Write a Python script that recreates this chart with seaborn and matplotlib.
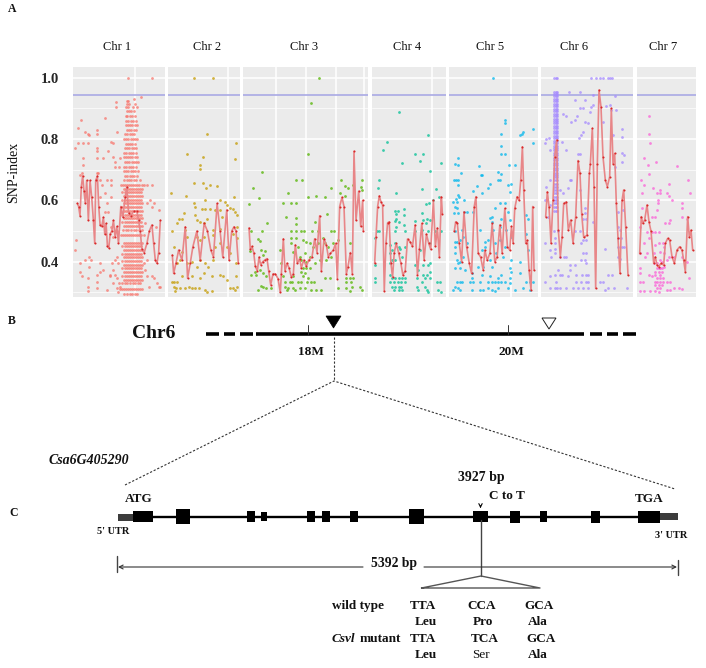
import matplotlib
matplotlib.use('Agg')
import matplotlib.pyplot as plt
from matplotlib.patches import Rectangle, Polygon
import pandas as pd
import seaborn as sns

# positions are read off the figure in arbitrary units, no x labels are shown anyway
chr_names = ['Chr 1', 'Chr 2', 'Chr 3', 'Chr 4', 'Chr 5', 'Chr 6', 'Chr 7']
chr_colors = ['#f8766d', '#c49a00', '#53b400', '#00c094', '#00b6eb', '#a58aff', '#fb61d7']
panel_px = [(73.3, 165), (168, 240), (243, 368), (372, 446), (449, 538), (541, 633), (637, 696)]
panel_lim = [(220, 494), (503, 720), (25, 400), (410, 633), (27, 295), (304, 580), (590, 767)]
panel_grid = [[405], [685], [125, 215, 303, 388], [590], [215], [], []]
title_x = [117.5, 207, 304, 407, 490, 574, 663]
threshold = 0.944
yticks = [0.4, 0.6, 0.8, 1.0]
yminor = [0.3, 0.5, 0.7, 0.9]

chr1_line = [(232,.59),(236,.58),(240,.55),(244,.645),(248,.68),(252,.63),(256,.59),(260,.665),(265,.535),(270,.665),
             (275,.61),(280,.535),(284,.46),(287,.665),(292,.68),(296,.58),(300,.52),(305,.515),(310,.545),(314,.49),
             (318,.525),(322,.45),(326,.445),(330,.49),(335,.50),(340,.535),(345,.48),(350,.515),(355,.46),(362,.58),
             (368,.545),(375,.61),(380,.645),(385,.56),(392,.55),(400,.565),(410,.565),(415,.535),(420,.50),(425,.44),
             (432,.43),(440,.46),(447,.50),(455,.52),(460,.46),(465,.405),(470,.395),(475,.43),(480,.535)]
chr2_line = [(516,.422),(520,.362),(527,.395),(535,.438),(545,.405),(555,.514),(562,.346),(570,.395),(578,.449),
             (590,.50),(600,.405),(612,.525),(622,.50),(632,.438),(640,.416),(651,.59),(660,.50),(668,.416),(680,.569),
             (687,.405),(695,.50),(702,.514),(708,.50),(715,.395)]
chr3_line = [(43,.51),(47,.44),(52,.45),(57,.43),(62,.385),(68,.37),(73,.415),(78,.39),(84,.40),(90,.405),(97,.41),
             (102,.37),(108,.325),(115,.36),(122,.36),(130,.345),(137,.30),(140,.36),(146,.475),(151,.37),(157,.395),
             (163,.38),(170,.35),(176,.36),(182,.455),(188,.395),(195,.41),(200,.38),(207,.405),(215,.385),(222,.405),
             (232,.415),(240,.475),(247,.43),(255,.55),(260,.37),(268,.475),(275,.455),(281,.416),(287,.427),(296,.438),
             (303,.46),(308,.345),(315,.58),(322,.61),(328,.58),(335,.36),(340,.384),(347,.43),(353,.36),(358,.76),
             (364,.535),(372,.63),(378,.515),(384,.60),(386,.50)]
chr4_line = [(418,.395),(422,.48),(427,.58),(432,.615),(437,.595),(442,.585),(447,.305),(452,.46),(457,.527),(462,.53),
             (467,.395),(472,.35),(477,.43),(483,.46),(490,.43),(497,.395),(503,.357),(510,.37),(517,.474),(525,.465),
             (532,.45),(540,.52),(547,.357),(553,.44),(560,.525),(567,.405),(574,.49),(581,.46),(587,.44),(595,.60),
             (601,.45),(607,.51),(613,.415),(619,.612),(622,.557)]
chr5_line = [(43,.50),(47,.53),(52,.525),(58,.46),(65,.40),(72,.563),(80,.449),(88,.395),(95,.362),(103,.58),(108,.612),
             (115,.427),(122,.416),(130,.373),(135,.438),(142,.405),(150,.427),(157,.525),(165,.40),(172,.416),(180,.52),
             (187,.427),(195,.574),(203,.449),(210,.438),(215,.515),(220,.46),(225,.574),(232,.612),(238,.60),(243,.666),
             (248,.775),(252,.634),(258,.46),(263,.47),(268,.373),(274,.308),(279,.58),(283,.373)]
chr6_line = [(318,.547),(323,.628),(328,.58),(334,.46),(340,.60),(345,.742),(351,.797),(356,.503),(362,.416),(367,.48),
             (372,.59),(380,.595),(386,.503),(393,.536),(400,.46),(408,.547),(415,.73),(421,.688),(426,.557),(432,.48),
             (442,.486),(449,.688),(452,.72),(458,.835),(463,.645),(468,.313),(473,.72),(478,.96),(484,.905),(490,.742),
             (497,.666),(503,.645),(510,.677),(515,.90),(520,.72),(525,.753),(530,.59),(535,.476),(541,.362),(547,.60),
             (552,.634),(558,.514),(565,.357)]
chr7_line = [(598,.427),(603,.547),(607,.525),(613,.536),(620,.585),(626,.53),(632,.50),(640,.395),(645,.416),(650,.389),
             (655,.384),(662,.395),(670,.389),(675,.46),(682,.476),(688,.47),(695,.416),(702,.395),(710,.438),(718,.449),
             (725,.438),(730,.405),(735,.367),(742,.547),(747,.48),(752,.503),(757,.438)]

chr1_pts = [(382,1.0),(456,1.0),(243,.862),(233,.835),(224,.77),(233,.786),(250,.786),(256,.824),(265,.815),(268,.812),
            (290,.83),(290,.818),(290,.77),(291,.762),(265,.786),(250,.737),(248,.715),(308,.737),(290,.737),(315,.87),
            (325,.76),(333,.79),(340,.786),(352,.824),(348,.92),(348,.905),(340,.74),(345,.726),(345,.71),(357,.71),
            (360,.737),(247,.688),(240,.683),(290,.69),(295,.69),(300,.666),(320,.666),(332,.666),(332,.65),(305,.65),
            (315,.625),(320,.59),(323,.563),(332,.612),(300,.612),(315,.563),(332,.514),(340,.48),(350,.50),(228,.47),
            (225,.438),(240,.395),(255,.405),(268,.416),(273,.405),(240,.368),(265,.346),(268,.384),(290,.357),(300,.368),
            (310,.373),(245,.352),(265,.318),(265,.305),(290,.333),(290,.313),(300,.395),(330,.357),(335,.395),(340,.373),
            (345,.405),(350,.416),(355,.395),(345,.357),(350,.346),(357,.33),(330,.352),(320,.308),(340,.33),(350,.313),
            (355,.302),(360,.318),(435,.525),(440,.59),(450,.601),(455,.579),(440,.65),(455,.65),(462,.59),(468,.514),
            (475,.568),(440,.352),(455,.352),(462,.346),(470,.33),(475,.318),(480,.318),(445,.318),(430,.395),(435,.373),(440,.405)]
# the dense block around 20M goes row by row
chr1_rows = [(.938,[421]),(.932,[400]),(.925,[380,384]),(.915,[379,386,403]),(.905,[378,383,398,409]),
             (.89,[380,386,392,402]),(.875,[376,381,388,395,404]),(.86,[378,384,391,398,406]),
             (.845,[376,382,390,396,403,410]),(.83,[379,385,392,400,408]),(.815,[374,380,388,395,402]),
             (.80,[372,378,384,391,398,405,411]),(.785,[376,383,390,396,404]),(.77,[374,380,387,394,401,408]),
             (.755,[372,378,385,392,399,406]),(.74,[370,376,382,389,396,403,410]),(.725,[373,380,387,394,401,408,414]),
             (.71,[372,378,385,392,399,406]),(.695,[370,377,384,391,398,405,412]),(.68,[374,381,388,395,402,409]),
             (.665,[372,379,386,393,400,407,418]),(.65,[362,368,374,380,386,392,398,404,410,416,424,432]),
             (.505,[368,376,384,392,400,408,416,424]),(.488,[362,368,374,380,386,392,398,404,410,416,422,430]),
             (.33,[365,373,381,389,397,405,413,420]),(.312,[360,366,372,378,384,390,396,402,408,414,420,426]),
             (.296,[372,380,388,396,404,410])]
chr1_fill_a = [370,376,382,388,394,400,406,412,418,424]
chr1_fill_b = [367,373,379,385,391,397,403,409,415,421]
chr1_fill_rows_a = [.638,.614,.590,.566,.542,.518,.462,.438,.414,.390,.366,.342]
chr1_fill_rows_b = [.626,.602,.578,.554,.530,.450,.426,.402,.378,.354]

chr2_pts = [(582,1.0),(638,1.0),(620,.818),(708,.786),(706,.734),(560,.75),(607,.742),(600,.715),(600,.704),(608,.658),
            (580,.658),(630,.65),(618,.64),(650,.648),(513,.625),(557,.615),(703,.612),(580,.59),(585,.579),(660,.601),
            (675,.595),(680,.585),(690,.574),(615,.601),(605,.572),(615,.572),(630,.572),(645,.568),(660,.568),(700,.572),
            (705,.563),(710,.552),(550,.56),(535,.54),(545,.54),(530,.525),(585,.552),(590,.536),(600,.53),(620,.541),
            (610,.525),(640,.503),(660,.508),(665,.547),(515,.50),(520,.449),(555,.503),(560,.481),(590,.481),(600,.47),
            (612,.481),(640,.487),(645,.449),(660,.46),(680,.449),(690,.427),(710,.514),(710,.476),(700,.492),(540,.405),
            (530,.395),(545,.432),(560,.395),(575,.40),(590,.384),(600,.405),(615,.395),(625,.384),(640,.405),(635,.352),
            (660,.357),(670,.352),(680,.341),(515,.335),(520,.335),(530,.335),(520,.318),(527,.316),(523,.305),(540,.313),
            (555,.313),(565,.318),(575,.316),(585,.313),(595,.313),(615,.308),(620,.302),(635,.305),(690,.313),(700,.313),
            (705,.308),(710,.318),(708,.352),(708,.395),(545,.352),(575,.352),(600,.346),(610,.362)]
chr3_pts = [(253,1.0),(229,.918),(221,.75),(82,.693),(55,.642),(72,.607),(42,.588),(183,.666),(201,.666),(160,.625),
            (146,.593),(168,.593),(183,.59),(220,.612),(243,.615),(270,.612),(290,.642),(320,.666),(332,.646),(340,.639),
            (355,.65),(378,.644),(382,.666),(382,.635),(316,.623),(330,.614),(96,.527),(153,.547),(185,.544),(185,.523),
            (240,.53),(278,.555),(82,.50),(50,.50),(70,.473),(75,.469),(80,.438),(90,.436),(85,.422),(47,.436),(170,.50),
            (185,.50),(200,.50),(208,.50),(233,.50),(290,.50),(297,.50),(250,.50),(168,.476),(185,.476),(205,.471),(215,.465),
            (225,.46),(170,.46),(190,.449),(235,.449),(250,.46),(265,.476),(270,.46),(280,.449),(295,.46),(310,.471),(345,.46),
            (175,.432),(195,.416),(210,.427),(225,.416),(240,.395),(255,.405),(275,.405),(290,.416),(200,.405),(215,.40),
            (50,.357),(60,.368),(65,.357),(75,.373),(85,.362),(95,.352),(70,.308),(78,.321),(85,.318),(95,.313),(110,.313),
            (140,.395),(135,.438),(145,.352),(150,.335),(175,.352),(200,.368),(205,.352),(212,.362),(220,.346),(205,.379),
            (215,.379),(225,.379),(150,.318),(158,.308),(165,.333),(172,.333),(180,.308),(190,.333),(200,.333),(210,.313),
            (218,.333),(228,.333),(238,.333),(245,.308),(260,.308),(270,.346),(285,.346),(310,.313),(335,.346),(345,.346),
            (355,.346),(335,.333),(350,.333),(335,.313),(345,.305),(352,.318),(375,.318),(382,.308),(160,.313),(175,.313),
            (195,.313),(230,.308)]
chr4_pts = [(492,.889),(578,.812),(455,.789),(442,.764),(541,.75),(565,.75),(500,.723),(556,.727),(619,.723),(586,.696),
            (432,.666),(428,.639),(483,.625),(562,.636),(603,.636),(612,.612),(480,.566),(487,.566),(507,.571),(483,.555),
            (507,.552),(483,.541),(478,.533),(490,.53),(583,.591),(572,.587),(595,.60),(560,.558),(565,.536),(575,.541),
            (585,.536),(540,.533),(572,.525),(482,.514),(505,.52),(425,.50),(430,.50),(480,.50),(508,.50),(540,.50),(560,.503),
            (580,.50),(600,.50),(617,.50),(465,.454),(470,.438),(480,.46),(490,.449),(465,.427),(470,.405),(480,.405),(495,.443),
            (500,.416),(510,.449),(555,.438),(585,.46),(420,.476),(420,.39),(465,.395),(420,.346),(420,.333),(465,.357),(470,.346),
            (480,.346),(490,.346),(500,.346),(510,.346),(540,.39),(550,.373),(565,.39),(580,.39),(585,.395),(565,.357),(575,.357),
            (585,.368),(545,.346),(560,.333),(570,.346),(585,.346),(465,.333),(475,.333),(487,.333),(497,.333),(508,.333),
            (470,.318),(480,.318),(490,.318),(497,.318),(475,.308),(490,.308),(500,.308),(545,.318),(548,.308),(570,.318),
            (575,.308),(580,.302),(605,.333),(615,.333),(610,.308),(617,.302)]
chr5_pts = [(158,1.0),(196,.862),(196,.854),(250,.824),(279,.833),(241,.813),(246,.818),(183,.818),(279,.786),(183,.777),
            (185,.75),(195,.75),(53,.737),(46,.72),(53,.717),(117,.713),(225,.715),(209,.715),(63,.69),(175,.693),(122,.683),
            (125,.684),(183,.686),(41,.666),(47,.666),(55,.666),(53,.65),(175,.666),(182,.666),(110,.646),(150,.652),(145,.642),
            (100,.631),(125,.625),(205,.65),(210,.628),(215,.655),(55,.617),(58,.612),(47,.603),(40,.595),(50,.595),(72,.601),
            (45,.579),(50,.574),(42,.558),(55,.558),(73,.563),(80,.563),(100,.563),(165,.574),(180,.59),(197,.59),(205,.563),
            (155,.547),(150,.544),(185,.541),(210,.536),(260,.552),(265,.541),(45,.50),(65,.503),(120,.503),(155,.53),(160,.503),
            (180,.514),(200,.503),(260,.492),(50,.465),(60,.47),(45,.465),(45,.449),(70,.481),(80,.46),(135,.465),(145,.47),
            (165,.46),(180,.47),(195,.449),(215,.481),(265,.438),(45,.427),(50,.405),(55,.395),(60,.40),(70,.416),(125,.438),
            (135,.449),(150,.405),(170,.427),(190,.416),(215,.405),(240,.40),(210,.379),(215,.368),(45,.379),(60,.379),(75,.373),
            (95,.362),(115,.384),(130,.384),(155,.384),(95,.346),(125,.357),(150,.352),(175,.346),(185,.357),(210,.346),(240,.362),
            (50,.333),(60,.333),(65,.333),(90,.333),(100,.333),(120,.333),(145,.333),(155,.333),(165,.333),(175,.333),(185,.333),
            (195,.333),(210,.33),(260,.333),(270,.333),(280,.333),(45,.318),(55,.313),(40,.308),(60,.308),(95,.308),(120,.308),
            (130,.308),(145,.313),(155,.308),(165,.305),(175,.313),(205,.313),(225,.308),(250,.313),(270,.308)]
chr6_pts = [(455,1.0),(470,1.0),(480,1.0),(490,1.0),(505,1.0),(510,1.0),(517,1.0),(343,1.0),(348,1.0),(352,1.0),(388,.954),
            (422,.952),(460,.944),(527,.942),(405,.929),(435,.927),(460,.911),(430,.90),(422,.90),(455,.904),(450,.889),(512,.911),
            (500,.908),(515,.895),(530,.895),(370,.882),(380,.875),(412,.875),(405,.862),(395,.857),(435,.857),(445,.854),(490,.857),
            (425,.813),(418,.802),(430,.824),(548,.833),(514,.813),(520,.813),(548,.807),(320,.80),(327,.802),(315,.786),(367,.79),
            (380,.764),(332,.764),(415,.75),(422,.75),(548,.755),(553,.747),(548,.726),(525,.71),(330,.666),(395,.666),(390,.666),
            (385,.639),(370,.623),(360,.634),(420,.634),(320,.645),(316,.601),(322,.601),(330,.585),(325,.547),(535,.563),(435,.574),
            (435,.558),(430,.541),(440,.541),(550,.568),(460,.53),(535,.514),(540,.503),(343,.50),(355,.50),(405,.50),(420,.50),
            (430,.47),(440,.47),(425,.46),(535,.476),(545,.476),(535,.449),(548,.449),(552,.449),(315,.46),(345,.476),(345,.46),
            (345,.443),(345,.427),(332,.438),(335,.416),(360,.416),(372,.416),(380,.416),(430,.427),(438,.427),(425,.405),(435,.405),
            (495,.443),(535,.416),(440,.395),(390,.39),(405,.39),(390,.373),(355,.373),(345,.357),(330,.352),(360,.357),(368,.357),
            (410,.357),(428,.357),(440,.357),(445,.357),(505,.357),(518,.357),(540,.41),(315,.333),(350,.333),(385,.352),(410,.333),
            (425,.333),(440,.333),(445,.333),(480,.333),(490,.333),(332,.313),(345,.313),(352,.313),(362,.313),(380,.313),(400,.313),
            (415,.313),(430,.313),(445,.313),(495,.308),(505,.313),(523,.313),(563,.313)]
# solid purple column at the start of the chromosome
chr6_col_x = [344, 348, 352]
chr6_col_y = [.955,.947,.939,.931,.923,.915,.907,.899,.891,.883,.875,.867,.859,.851,.843,.835,.827,.819,.811,.803,.795,.787,
              .779,.771,.763,.755,.747,.739,.731,.723,.715,.707,.699,.691,.683,.675,.667,.655,.645,.635,.625,.612,.60,.59,.578,.565]
chr7_pts = [(625,.875),(625,.818),(630,.786),(610,.737),(647,.726),(622,.715),(711,.713),(626,.686),(602,.666),(744,.666),
            (610,.65),(638,.642),(687,.652),(660,.634),(605,.623),(650,.625),(660,.623),(680,.625),(687,.614),(750,.625),
            (605,.574),(653,.601),(653,.59),(695,.601),(725,.59),(725,.574),(650,.568),(635,.547),(645,.547),(690,.536),
            (675,.525),(685,.525),(725,.547),(740,.541),(600,.514),(620,.498),(635,.498),(645,.498),(655,.498),(610,.46),
            (625,.476),(645,.454),(657,.46),(668,.46),(672,.449),(600,.427),(620,.427),(640,.427),(660,.432),(670,.427),
            (685,.416),(700,.416),(725,.416),(615,.416),(600,.379),(640,.395),(650,.395),(660,.405),(665,.40),(680,.405),
            (740,.40),(600,.362),(625,.357),(635,.352),(650,.379),(655,.379),(660,.379),(665,.379),(670,.382),(645,.368),
            (655,.368),(665,.368),(660,.357),(645,.357),(650,.346),(658,.346),(668,.346),(650,.335),(660,.333),(668,.333),
            (645,.324),(655,.324),(665,.324),(650,.313),(660,.313),(645,.305),(655,.302),(598,.333),(608,.333),(600,.305),
            (610,.305),(630,.305),(645,.333),(680,.333),(690,.333),(680,.308),(690,.308),(700,.313),(715,.316),(725,.31),(745,.346)]

chr1_all = list(chr1_pts)
for row_y, row_xs in chr1_rows:
    chr1_all += [(x, row_y) for x in row_xs]
for row_y in chr1_fill_rows_a:
    chr1_all += [(x, row_y) for x in chr1_fill_a]
for row_y in chr1_fill_rows_b:
    chr1_all += [(x, row_y) for x in chr1_fill_b]
chr6_all = chr6_pts + [(x, y) for y in chr6_col_y for x in chr6_col_x]

chr_points = [chr1_all, chr2_pts, chr3_pts, chr4_pts, chr5_pts, chr6_all, chr7_pts]
chr_lines = [chr1_line, chr2_line, chr3_line, chr4_line, chr5_line, chr6_line, chr7_line]

# panel B
dash_left = [(206, 219), (224, 235), (240, 253)]
dash_right = [(590, 602), (607, 618), (623, 636)]
chr6_solid = (256, 584)
mb_ticks = [(308, '18M'), (508, '20M')]
# panel C, exon (start, end, half height)
exons = [(133,153,5.5),(176,190,7.5),(247,255,5.5),(261,267,4.5),(307,315,5.5),(322,330,5.5),(350,358,5.5),
         (409,424,7.5),(473,488,5.5),(510,520,6),(540,547,5.5),(591,600,6),(638,660,6)]
codons = [('TTA', 'CCA', 'GCA'), ('Leu', 'Pro', 'Ala'), ('TTA', 'TCA', 'GCA'), ('Leu', 'Ser', 'Ala')]
codon_x = [(423.5, 482, 539), (426, 483, 537.5), (423.5, 484.5, 541.5), (426, 481, 538)]
codon_y = [606, 622, 639, 655]

sns.set_theme(style='white')
plt.rcParams['font.family'] = ['Liberation Serif', 'DejaVu Serif']
plt.rcParams['text.color'] = '#111111'

W, H = 706, 668
TOP, BOTTOM = 66.7, 296.7
fig = plt.figure(figsize=(W / 100, H / 100), dpi=100)

for i, name in enumerate(chr_names):
    left, right = panel_px[i]
    ax = fig.add_axes([left / W, 1 - BOTTOM / H, (right - left) / W, (BOTTOM - TOP) / H])
    ax.set_facecolor('#ebebeb')
    pts = pd.DataFrame(chr_points[i], columns=['pos', 'snp_index'])
    line = pd.DataFrame(chr_lines[i], columns=['pos', 'snp_index'])
    ax.axhline(threshold, color='#a9a9e4', lw=1.2, zorder=1.5)
    sns.scatterplot(data=pts, x='pos', y='snp_index', ax=ax, color=chr_colors[i], s=4, linewidth=0, alpha=0.75, zorder=2)
    sns.lineplot(data=line, x='pos', y='snp_index', ax=ax, color='#e88688', lw=1.2, estimator=None, sort=False, zorder=3,
                 marker='o', markersize=1.5, markerfacecolor='#d92828', markeredgewidth=0)
    ax.set_xlim(panel_lim[i])
    ax.set_ylim(0.286, 1.036)
    ax.set_xticks(panel_grid[i])
    ax.set_yticks(yticks)
    ax.set_yticks(yminor, minor=True)
    ax.grid(True, which='major', color='white', lw=1.1)
    ax.grid(True, which='minor', axis='y', color='white', lw=0.5)
    ax.set_axisbelow(True)
    ax.set_xlabel('')
    ax.set_ylabel('')
    ax.tick_params(axis='x', length=0, labelbottom=False)
    ax.tick_params(axis='y', which='minor', length=0)
    if i == 0:
        ax.tick_params(axis='y', length=1.5, width=0.6, color='#888888', labelsize=10.5, pad=9)
        ax.set_yticklabels(['0.4', '0.6', '0.8', '1.0'], fontweight='bold')
    else:
        ax.tick_params(axis='y', length=0, labelleft=False)
    sns.despine(ax=ax, left=True, bottom=True)

# overlay in image pixels for labels and panels B, C
ov = fig.add_axes([0, 0, 1, 1], facecolor='none')
ov.set_xlim(0, W)
ov.set_ylim(H, 0)
ov.axis('off')

def label(x, y, s, size=9, weight='bold', style='normal', ha='center', **kw):
    ov.text(x, y, s, fontsize=size, fontweight=weight, fontstyle=style, ha=ha, va='center', **kw)

for x, name in zip(title_x, chr_names):
    label(x, 47, name, size=9, weight='normal')
label(14, 172, 'SNP-index', size=10, weight='normal', rotation=90)
label(12, 9, 'A', size=8.5)
label(12, 321, 'B', size=8.5)
label(14, 513, 'C', size=8.5)

# panel B
label(154, 334, 'Chr6', size=14)
for a, b in dash_left + dash_right:
    ov.plot([a, b], [334, 334], color='black', lw=2.6, solid_capstyle='butt')
ov.plot(chr6_solid, [334, 334], color='black', lw=2.6, solid_capstyle='butt')
for x, txt in mb_ticks:
    ov.plot([x, x], [325, 334], color='#333333', lw=0.7)
    label(x + 3, 352, txt, size=9.5)
ov.add_patch(Polygon([(326, 316), (341, 316), (333.5, 328)], closed=True, fc='black', ec='black', lw=0.5))
ov.add_patch(Polygon([(542, 318), (556, 318), (549, 329)], closed=True, fc='white', ec='#222222', lw=0.7))
ov.plot([334, 334], [337, 381], color='#333333', lw=0.8, ls=(0, (2, 1.6)))
ov.plot([125, 334, 675], [485, 381, 489], color='#333333', lw=0.8, ls=(0, (2, 1.6)))
label(89, 460, 'Csa6G405290', size=10, style='italic')

# panel C
ov.plot([133, 660], [517, 517], color='black', lw=1.7, solid_capstyle='butt')
ov.add_patch(Rectangle((118, 513.5), 15, 7, fc='#3c3c3c', ec='none'))
ov.add_patch(Rectangle((660, 512.5), 18, 7, fc='#3c3c3c', ec='none'))
for a, b, hh in exons:
    ov.add_patch(Rectangle((a, 516.5 - hh), b - a, 2 * hh, fc='black', ec='none'))
label(139, 499, 'ATG', size=9.5)
label(649, 499, 'TGA', size=9.5)
label(113, 532, "5' UTR", size=7.5)
label(671, 535, "3' UTR", size=7.5)
label(481, 477, '3927 bp', size=10)
label(507, 496, 'C to T', size=9.5)
ov.annotate('', xy=(480.5, 511), xytext=(480.5, 503), arrowprops=dict(arrowstyle='->', lw=0.8, color='black', mutation_scale=6))
ov.plot([481, 481], [520, 576], color='#444444', lw=1)
ov.plot([421.5, 481, 540, 421.5], [588, 576, 588, 588], color='#555555', lw=1)
ov.plot([117, 117], [556, 572], color='#444444', lw=1)
ov.plot([678, 678], [560, 575], color='#444444', lw=1)
ov.annotate('', xy=(118, 567), xytext=(363, 567), arrowprops=dict(arrowstyle='->', lw=0.8, color='#333333', mutation_scale=7, shrinkA=0, shrinkB=0))
ov.annotate('', xy=(677, 567), xytext=(424, 567), arrowprops=dict(arrowstyle='->', lw=0.8, color='#333333', mutation_scale=7, shrinkA=0, shrinkB=0))
label(394, 564, '5392 bp', size=9.8)
label(332, 606, 'wild type', size=9.5, ha='left')
label(332, 639, 'Csvl', size=9.5, style='italic', ha='left')
label(360, 639, 'mutant', size=9.5, ha='left')
for r, row in enumerate(codons):
    for c, txt in enumerate(row):
        weight = 'normal' if txt == 'Ser' else 'bold'
        label(codon_x[r][c], codon_y[r], txt, size=9.5, weight=weight)

fig.savefig('out.png', dpi=100)
